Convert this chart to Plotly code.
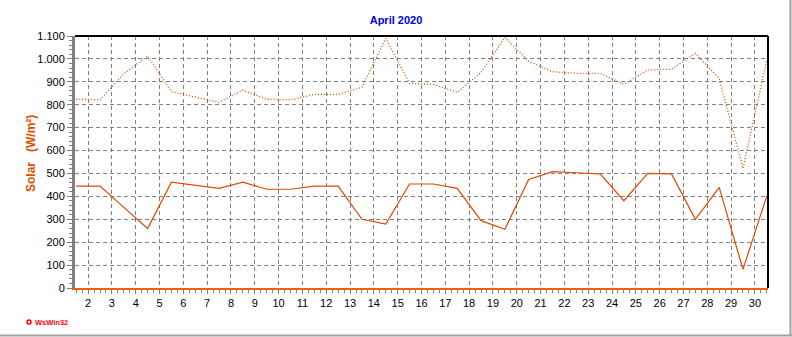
import plotly.graph_objects as go

# ---- data ----
days = list(range(1, 31))
solar_avg = [445, 445, 352, 260, 462, 447, 435, 462, 431, 431,
             445, 445, 300, 279, 454, 454, 435, 294, 256, 474,
             508, 503, 498, 381, 500, 498, 300, 439, 81, 402]
solar_max = [824, 821, 935, 1013, 857, 832, 810, 864, 824, 821,
             845, 845, 876, 1090, 893, 889, 854, 940, 1094, 990,
             944, 937, 937, 889, 952, 955, 1024, 915, 522, 995]
x_tick_days = list(range(2, 31))
title_text = "April 2020"
y_title = "Solar&nbsp;&nbsp; (W/m²)"
footer_text = "WsWin32"

# points are drawn at midday of each day
xs = [d + 0.5 for d in days]

W, H = 792, 337
L, R, T, B = 75, 24, 36, 49
PW, PH = W - L - R, H - T - B

def px_x(px):
    return (px - L) / PW

def px_y(py):
    return (H - B - py) / PH

LINE = "#e04800"
GRID = "#808080"
FONT = "Liberation Sans, Arial, sans-serif"

fig = go.Figure()
fig.add_trace(go.Scatter(x=xs, y=solar_max, mode="lines",
                         line=dict(color=LINE, width=1.3, dash="1px,2px"),
                         showlegend=False, hoverinfo="skip"))
fig.add_trace(go.Scatter(x=xs, y=solar_avg, mode="lines",
                         line=dict(color=LINE, width=1.2),
                         showlegend=False, hoverinfo="skip"))

fig.update_layout(
    width=W, height=H,
    margin=dict(l=L, r=R, t=T, b=B, pad=0),
    paper_bgcolor="white", plot_bgcolor="white",
    separators=",.",
    font=dict(family=FONT, size=11, color="black"),
    title=dict(text="<b>" + title_text + "</b>", x=0.5, xref="container",
               xanchor="center", y=1 - 20 / H, yanchor="middle",
               font=dict(family=FONT, size=11, color="#0000e6")),
    xaxis=dict(range=[1.45, 30.55], tickmode="array", tickvals=x_tick_days,
               ticktext=[str(d) for d in x_tick_days],
               showgrid=True, gridcolor=GRID, griddash="4px,3px", gridwidth=1,
               showline=True, linecolor="#e86010", linewidth=2,
               ticks="outside", ticklen=4, tickcolor=GRID, tickwidth=1,
               minor=dict(tickmode="linear", tick0=0, dtick=0.25, ticks="outside",
                          ticklen=3, tickcolor=GRID, showgrid=False),
               zeroline=False, fixedrange=True,
               tickfont=dict(family=FONT, size=11, color="black")),
    yaxis=dict(range=[0, 1100], tickmode="linear", tick0=0, dtick=100,
               tickformat=",d",
               showgrid=True, gridcolor=GRID, griddash="4px,3px", gridwidth=1,
               showline=True, linecolor="#808080", linewidth=3,
               ticks="outside", ticklen=5, tickcolor=GRID, tickwidth=1,
               minor=dict(tickmode="linear", tick0=0, dtick=20, ticks="outside",
                          ticklen=3, tickcolor=GRID, showgrid=False),
               zeroline=False, fixedrange=True,
               tickfont=dict(family=FONT, size=11, color="black")),
)

# frame: top and right black borders of the plot area
fig.add_shape(type="line", xref="paper", yref="paper", x0=0, x1=1, y0=1, y1=1,
              line=dict(color="black", width=2))
fig.add_shape(type="line", xref="paper", yref="paper", x0=1, x1=1, y0=0, y1=1,
              line=dict(color="black", width=2))
# outer panel shadow lines (right and bottom)
fig.add_shape(type="line", xref="paper", yref="paper",
              x0=px_x(790.5), x1=px_x(790.5), y0=px_y(0), y1=px_y(336),
              line=dict(color="#a0a0a0", width=2))
fig.add_shape(type="line", xref="paper", yref="paper",
              x0=px_x(0), x1=px_x(792), y0=px_y(335.5), y1=px_y(335.5),
              line=dict(color="#a0a0a0", width=2))

# y axis title
fig.add_annotation(text="<b>" + y_title + "</b>", xref="paper", yref="paper",
                   x=px_x(31), y=px_y(154), textangle=-90, showarrow=False,
                   xanchor="center", yanchor="middle",
                   font=dict(family=FONT, size=12, color="#e05000"))
# footer
fig.add_shape(type="circle", xref="paper", yref="paper",
              x0=px_x(27), x1=px_x(31), y0=px_y(320), y1=px_y(324),
              line=dict(color="#ff0000", width=1.5), fillcolor="white")
fig.add_annotation(text="<b>" + footer_text + "</b>", xref="paper", yref="paper",
                   x=px_x(32.5), y=px_y(322), showarrow=False,
                   xanchor="left", yanchor="middle",
                   font=dict(family=FONT, size=7.5, color="#ff0000"))

fig.write_html("out.html")
